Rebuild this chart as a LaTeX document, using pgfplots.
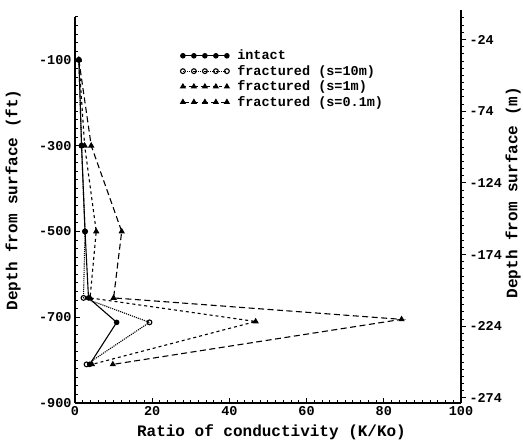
\documentclass[border=0pt]{standalone}
\usepackage{fontspec}
\setmainfont{Liberation Mono}
\usepackage{pgfplots}
\pgfplotsset{compat=1.18}
\begin{document}
\begin{tikzpicture}
\pgfplotsset{
  common/.style={
    scale only axis, width=386pt, height=386pt,
    xmin=0, xmax=100,
    axis line style={-, line width=1.2pt},
    every tick/.style={black, line width=1pt},
    major tick length=5pt, minor tick length=3pt,
    ticklabel style={font=\fontsize{13.5}{13.5}\selectfont\bfseries},
    /pgf/number format/assume math mode=true,
    label style={font=\fontsize{16}{16}\selectfont\bfseries},
  }
}
\begin{axis}[
  common, name=main,
  ymin=-900, ymax=0,
  axis x line*=bottom, axis y line*=left,
  xtick={0,20,40,60,80,100},
  minor xtick={0,2,...,100},
  ytick={-100,-300,-500,-700,-900},
  minor ytick={-900,-880,...,0},
  tick align=inside,
  xlabel={Ratio of conductivity (K/Ko)},
  ylabel={Depth from surface (ft)},
  xlabel style={at={(axis description cs:0.509,-0.075)}, anchor=center},
  ylabel style={at={(axis description cs:-0.16,0.526)}, anchor=center},
  legend cell align=left,
  legend style={at={(0.265,0.925)}, anchor=north west, draw=none, fill=none,
    font=\fontsize{13.5}{13.5}\selectfont\bfseries, row sep=0pt},
  legend image code/.code={\draw[mark repeat=1,mark phase=1,#1] plot coordinates {(0pt,0pt) (11pt,0pt) (22pt,0pt) (33pt,0pt) (44pt,0pt)};},
  legend style={/tikz/every odd column/.append style={column sep=6pt}},
]
\addplot[black, line width=1.1pt, mark=*, mark size=2.2pt]
  coordinates {(1,-100) (1.7,-300) (2.6,-500) (3.5,-655) (10.8,-712) (3.8,-810)};
\addlegendentry{intact}
\addplot[black, line width=1.1pt, densely dotted, mark=o, mark size=2.4pt, mark options={solid}]
  coordinates {(1,-100) (1.7,-300) (2.6,-500) (2.2,-655) (19.3,-712) (3.0,-810)};
\addlegendentry{fractured (s=10m)}
\addplot[black, line width=1.1pt, dash pattern=on 3pt off 3pt, mark=triangle*, mark size=2.6pt, mark options={solid}]
  coordinates {(1,-100) (2.5,-300) (5.5,-500) (3.9,-655) (46.8,-710) (4.4,-810)};
\addlegendentry{fractured (s=1m)}
\addplot[black, line width=1.1pt, dash pattern=on 6pt off 3.5pt, mark=triangle*, mark size=2.6pt, mark options={solid}]
  coordinates {(1,-100) (4.2,-300) (12.1,-500) (10.0,-655) (84.6,-705) (9.8,-810)};
\addlegendentry{fractured (s=0.1m)}
\coordinate (SW) at (rel axis cs:0,0);
\coordinate (NE) at (rel axis cs:1,1);
\end{axis}
\begin{axis}[
  common,
  ymin=-277.5, ymax=-8.3,
  axis x line=none, axis y line*=right,
  y axis line style={shorten >=-7pt},
  ytick={-24,-74,-124,-174,-224,-274},
  minor ytick={-274,-269,...,-9},
  tick align=outside,
  ylabel={Depth from surface (m)},
  ylabel style={at={(axis description cs:1.135,0.545)}, anchor=center, font=\fontsize{16}{16}\selectfont\bfseries},
]
\end{axis}
\pgfresetboundingbox
\path ([xshift=-75pt,yshift=-39pt]SW) rectangle ([xshift=62pt,yshift=17pt]NE);
\end{tikzpicture}
\end{document}
